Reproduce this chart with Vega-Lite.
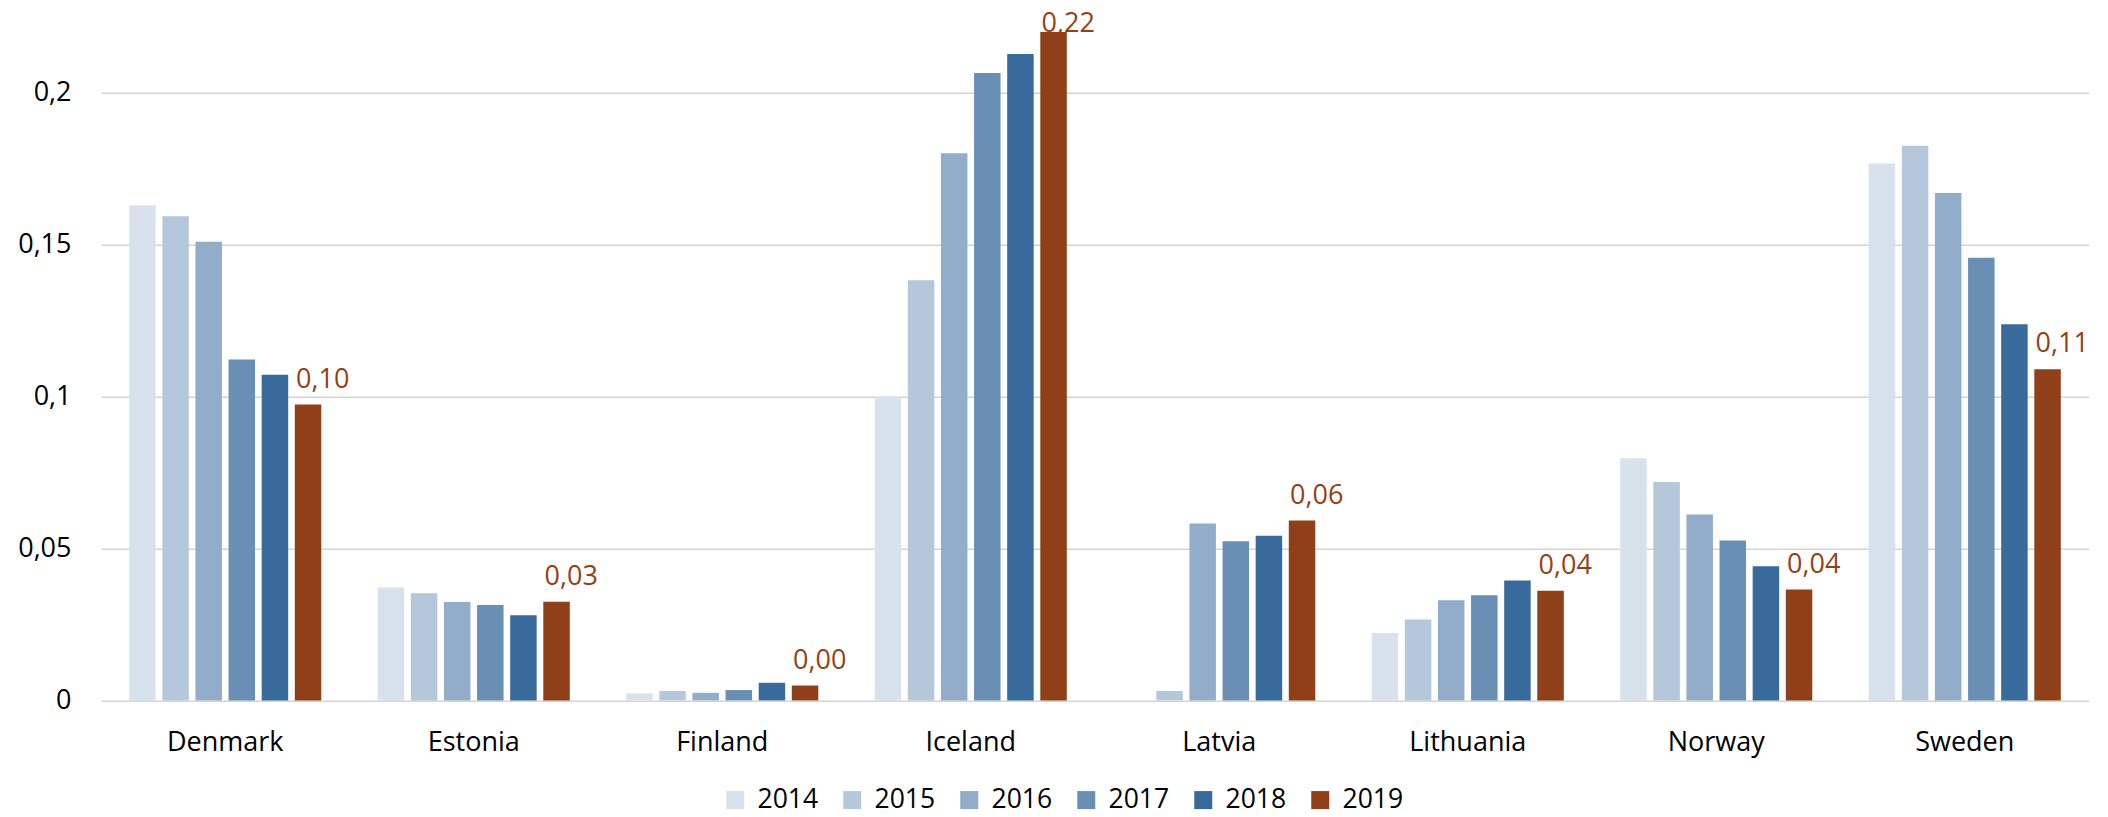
{
  "$schema": "https://vega.github.io/schema/vega-lite/v6.json",
  "width": 1988,
  "height": 698.7,
  "autosize": {"type": "none"},
  "padding": {"left": 101, "top": 1.7, "right": 19, "bottom": 116.6},
  "background": "white",
  "config": {
    "locale": {"number": {"decimal": ",", "thousands": " ", "grouping": [3], "currency": ["", ""]}},
    "view": {"stroke": null},
    "font": "Open Sans"
  },
  "data": {
    "values": [
      {"country": "Denmark", "year": 2014, "value": 0.163},
      {"country": "Denmark", "year": 2015, "value": 0.1594},
      {"country": "Denmark", "year": 2016, "value": 0.151},
      {"country": "Denmark", "year": 2017, "value": 0.1122},
      {"country": "Denmark", "year": 2018, "value": 0.1072},
      {"country": "Denmark", "year": 2019, "value": 0.0974},
      {"country": "Estonia", "year": 2014, "value": 0.0372},
      {"country": "Estonia", "year": 2015, "value": 0.0353},
      {"country": "Estonia", "year": 2016, "value": 0.0324},
      {"country": "Estonia", "year": 2017, "value": 0.0314},
      {"country": "Estonia", "year": 2018, "value": 0.028},
      {"country": "Estonia", "year": 2019, "value": 0.0325},
      {"country": "Finland", "year": 2014, "value": 0.0023},
      {"country": "Finland", "year": 2015, "value": 0.0031},
      {"country": "Finland", "year": 2016, "value": 0.0025},
      {"country": "Finland", "year": 2017, "value": 0.0034},
      {"country": "Finland", "year": 2018, "value": 0.0058},
      {"country": "Finland", "year": 2019, "value": 0.0049},
      {"country": "Iceland", "year": 2014, "value": 0.1},
      {"country": "Iceland", "year": 2015, "value": 0.1383},
      {"country": "Iceland", "year": 2016, "value": 0.1801},
      {"country": "Iceland", "year": 2017, "value": 0.2065},
      {"country": "Iceland", "year": 2018, "value": 0.2128},
      {"country": "Iceland", "year": 2019, "value": 0.22},
      {"country": "Latvia", "year": 2014, "value": null},
      {"country": "Latvia", "year": 2015, "value": 0.0031},
      {"country": "Latvia", "year": 2016, "value": 0.0582},
      {"country": "Latvia", "year": 2017, "value": 0.0524},
      {"country": "Latvia", "year": 2018, "value": 0.0542},
      {"country": "Latvia", "year": 2019, "value": 0.0592},
      {"country": "Lithuania", "year": 2014, "value": 0.0222},
      {"country": "Lithuania", "year": 2015, "value": 0.0266},
      {"country": "Lithuania", "year": 2016, "value": 0.033},
      {"country": "Lithuania", "year": 2017, "value": 0.0346},
      {"country": "Lithuania", "year": 2018, "value": 0.0395},
      {"country": "Lithuania", "year": 2019, "value": 0.0361},
      {"country": "Norway", "year": 2014, "value": 0.0797},
      {"country": "Norway", "year": 2015, "value": 0.0719},
      {"country": "Norway", "year": 2016, "value": 0.0612},
      {"country": "Norway", "year": 2017, "value": 0.0526},
      {"country": "Norway", "year": 2018, "value": 0.0442},
      {"country": "Norway", "year": 2019, "value": 0.0365},
      {"country": "Sweden", "year": 2014, "value": 0.1767},
      {"country": "Sweden", "year": 2015, "value": 0.1826},
      {"country": "Sweden", "year": 2016, "value": 0.167},
      {"country": "Sweden", "year": 2017, "value": 0.1457},
      {"country": "Sweden", "year": 2018, "value": 0.1238},
      {"country": "Sweden", "year": 2019, "value": 0.109}
    ]
  },
  "encoding": {
    "x": {
      "field": "country",
      "type": "nominal",
      "sort": null,
      "scale": {"paddingInner": 0.227, "paddingOuter": 0.1135},
      "axis": {
        "title": null,
        "domain": false,
        "ticks": false,
        "labelAngle": 0,
        "labelFontSize": 27,
        "labelFont": "Open Sans",
        "labelPadding": 29,
        "labelColor": "#000000"
      }
    },
    "xOffset": {
      "field": "year",
      "type": "nominal",
      "scale": {"paddingInner": 0.2, "paddingOuter": 0}
    },
    "y": {
      "field": "value",
      "type": "quantitative",
      "scale": {"domain": [0, 0.23], "nice": false},
      "axis": {
        "title": null,
        "values": [0, 0.05, 0.1, 0.15, 0.2],
        "format": ".2~f",
        "grid": true,
        "gridColor": "#d4d4d4",
        "gridWidth": 1.5,
        "domain": false,
        "ticks": false,
        "labelPadding": 30,
        "labelFontSize": 27,
        "labelFont": "Open Sans",
        "labelColor": "#000000"
      }
    }
  },
  "layer": [
    {
      "mark": {"type": "bar"},
      "encoding": {
        "color": {
          "field": "year",
          "type": "nominal",
          "scale": {
            "domain": [2014, 2015, 2016, 2017, 2018, 2019],
            "range": ["#D8E2EC", "#B5C7DA", "#91ADC9", "#6A8FB5", "#386B9B", "#8F4018"]
          },
          "legend": {
            "title": null,
            "orient": "none",
            "legendX": 621,
            "legendY": 785,
            "direction": "horizontal",
            "symbolType": "square",
            "symbolSize": 324,
            "symbolStrokeWidth": 0,
            "labelFontSize": 26.5,
            "labelFont": "Open Sans",
            "labelOffset": 9,
            "columnPadding": 20,
            "padding": 0,
            "labelColor": "#000000"
          }
        }
      }
    },
    {
      "transform": [{"filter": "datum.year == 2019"}],
      "mark": {
        "type": "text",
        "align": "left",
        "baseline": "alphabetic",
        "dx": -12,
        "dy": {"expr": "datum.value > 0.2 ? 0 : -17"},
        "fontSize": 27,
        "font": "Open Sans",
        "color": "#943F16"
      },
      "encoding": {
        "text": {"field": "value", "type": "quantitative", "format": ".2f"}
      }
    }
  ]
}
